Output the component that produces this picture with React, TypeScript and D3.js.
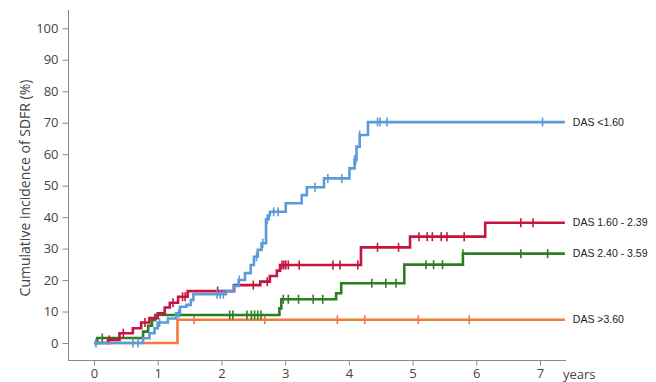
import React, { useEffect, useRef } from 'react';
import * as d3 from 'd3';

// step points [years, %]
const blueSteps = [[0, 0], [0.77, 1.5], [0.87, 3.1], [0.95, 4.7], [1.0, 6.5], [1.16, 7.8], [1.29, 9.4], [1.35, 11.5], [1.45, 12.1], [1.52, 13.7], [1.56, 15.5], [2.07, 16.5], [2.19, 18.1], [2.27, 20.0], [2.37, 22.2], [2.46, 24.8], [2.51, 27.4], [2.57, 29.6], [2.63, 31.7], [2.7, 39.3], [2.74, 40.6], [2.76, 41.7], [3.01, 44.4], [3.26, 47.0], [3.34, 49.5], [3.61, 52.3], [4.01, 55.5], [4.09, 58.2], [4.12, 62.4], [4.17, 66.1], [4.3, 70.2], [7.39, 70.2]];
const blueCensor = [0.03, 0.61, 0.69, 1.03, 1.33, 1.93, 1.98, 2.03, 2.28, 2.55, 2.65, 2.72, 2.82, 2.89, 3.47, 3.67, 3.89, 4.09, 4.11, 4.17, 4.45, 4.49, 4.6, 7.04];

const redSteps = [[0, 0], [0.22, 1.0], [0.4, 3.1], [0.61, 4.7], [0.74, 6.5], [0.87, 7.9], [1.0, 9.4], [1.11, 11.3], [1.19, 12.8], [1.32, 14.7], [1.47, 16.5], [2.2, 18.4], [2.61, 19.5], [2.76, 21.3], [2.87, 23.0], [2.92, 24.8], [4.19, 30.4], [4.96, 33.8], [6.14, 38.2], [7.39, 38.2]];
const redCensor = [0.24, 0.46, 0.8, 1.24, 1.39, 1.43, 1.94, 2.5, 2.72, 2.95, 2.98, 3.01, 3.05, 3.22, 3.75, 3.86, 4.14, 4.45, 4.78, 5.1, 5.23, 5.31, 5.45, 5.54, 5.81, 6.7, 6.89];

const greenSteps = [[0, 0], [0.05, 1.6], [0.77, 3.6], [0.85, 5.5], [0.91, 7.3], [0.96, 8.9], [2.91, 11.0], [2.94, 13.9], [3.8, 15.8], [3.88, 19.0], [4.87, 24.9], [5.79, 28.4], [7.39, 28.4]];
const greenCensor = [0.13, 2.13, 2.18, 2.4, 2.47, 2.52, 2.57, 2.62, 2.97, 3.05, 3.21, 3.44, 3.59, 4.36, 4.58, 4.74, 5.21, 5.33, 5.47, 5.79, 6.7, 7.12];

const orangeSteps = [[0, 0], [1.31, 7.4], [7.39, 7.4]];
const orangeCensor = [1.57, 2.68, 3.82, 4.25, 5.09, 5.89];

const groupLabels = ['DAS >3.60', 'DAS 2.40 - 3.59', 'DAS 1.60 - 2.39', 'DAS <1.60'];
const groupColors = ['#f27b3e', '#2e7d22', '#c5143f', '#5a9bd8'];
const xTicks = [0, 1, 2, 3, 4, 5, 6, 7];
const yTicks = [0, 10, 20, 30, 40, 50, 60, 70, 80, 90, 100];

export default function App() {
  const ref = useRef<SVGSVGElement>(null);

  useEffect(() => {
    const svg = d3.select(ref.current);
    svg.selectAll('*').remove();

    const x = d3.scaleLinear().domain([0, 7]).range([94, 540]);
    const y = d3.scaleLinear().domain([0, 100]).range([343, 28.3]);
    const axisColor = '#8a8a8a';
    const font = '"Open Sans", sans-serif';

    // y axis
    svg.append('line')
      .attr('x1', 68.5).attr('x2', 68.5).attr('y1', 10).attr('y2', 360.5)
      .attr('stroke', axisColor);
    const yAxis = svg.append('g').attr('transform', 'translate(68.5,0)')
      .call(d3.axisLeft(y).tickValues(yTicks).tickFormat(d3.format('d')).tickSize(6).tickPadding(4));
    yAxis.select('.domain').remove();
    yAxis.selectAll('line').attr('stroke', axisColor);
    yAxis.selectAll('text').attr('fill', '#444').style('font-size', '13px').style('font-family', font);

    // x axis
    svg.append('line')
      .attr('x1', 68).attr('x2', 566).attr('y1', 360.5).attr('y2', 360.5)
      .attr('stroke', axisColor);
    const xAxis = svg.append('g').attr('transform', 'translate(0,360.5)')
      .call(d3.axisBottom(x).tickValues(xTicks).tickFormat(d3.format('d')).tickSize(5).tickPadding(3));
    xAxis.select('.domain').remove();
    xAxis.selectAll('line').attr('stroke', axisColor);
    xAxis.selectAll('text').attr('fill', '#444').style('font-size', '13px').style('font-family', font);

    svg.append('text')
      .attr('x', 563).attr('y', 379)
      .attr('fill', '#444').style('font-size', '13px').style('font-family', font)
      .text('years');

    svg.append('text')
      .attr('transform', 'translate(30,188) rotate(-90)')
      .attr('text-anchor', 'middle')
      .attr('fill', '#444').style('font-size', '14px').style('font-family', font)
      .text('Cumulative incidence of SDFR (%)');

    const series = [
      { steps: orangeSteps, censor: orangeCensor },
      { steps: greenSteps, censor: greenCensor },
      { steps: redSteps, censor: redCensor },
      { steps: blueSteps, censor: blueCensor },
    ];

    const line = d3.line<number[]>()
      .x(d => x(d[0]))
      .y(d => y(d[1]))
      .curve(d3.curveStepAfter);

    series.forEach((s, i) => {
      const color = groupColors[i];
      svg.append('path')
        .attr('d', line(s.steps))
        .attr('fill', 'none')
        .attr('stroke', color)
        .attr('stroke-width', 2.6);

      const valueAt = (t: number) => {
        let v = 0;
        s.steps.forEach(p => { if (p[0] <= t) v = p[1]; });
        return v;
      };
      svg.selectAll(null)
        .data(s.censor)
        .enter()
        .append('line')
        .attr('x1', d => x(d)).attr('x2', d => x(d))
        .attr('y1', d => y(valueAt(d)) - 4.5)
        .attr('y2', d => y(valueAt(d)) + 4.5)
        .attr('stroke', color)
        .attr('stroke-width', 1.6);

      const last = s.steps[s.steps.length - 1];
      svg.append('text')
        .attr('x', x(last[0]) + 8)
        .attr('y', y(last[1]))
        .attr('dy', '0.35em')
        .attr('fill', '#222')
        .style('font-size', '10.5px')
        .style('font-family', '"Liberation Sans", Arial, sans-serif')
        .text(groupLabels[i]);
    });
  }, []);

  return (
    <svg
      ref={ref}
      width={656}
      height={382}
      style={{ position: 'absolute', left: 0, top: 0, background: '#fff' }}
    />
  );
}
